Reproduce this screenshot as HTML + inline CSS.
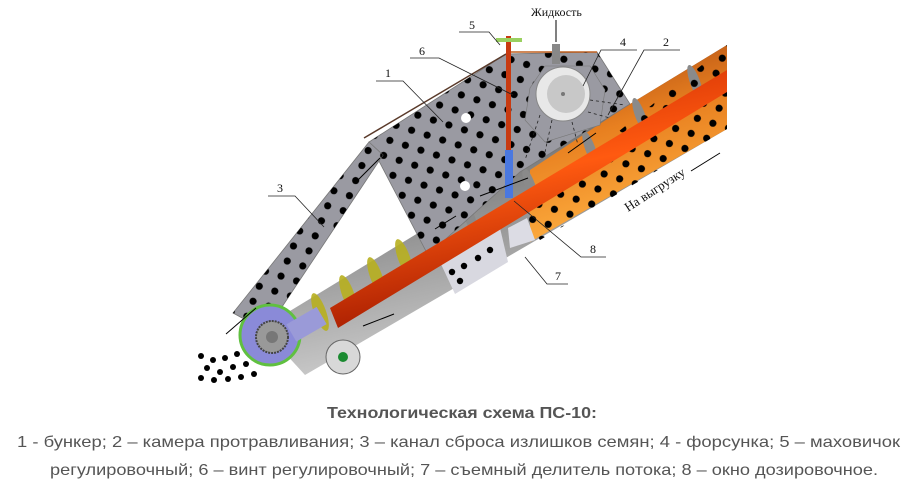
<!DOCTYPE html>
<html><head><meta charset="utf-8"><style>
html,body{margin:0;padding:0;background:#fff;width:918px;height:500px;overflow:hidden}
svg{display:block}
</style></head><body>
<svg width="918" height="500" viewBox="0 0 918 500" xmlns="http://www.w3.org/2000/svg">
<defs>
<pattern id="dots" width="24" height="22" patternUnits="userSpaceOnUse" patternTransform="rotate(-25)">
<circle cx="6" cy="6" r="3.6" fill="#000"/><circle cx="18" cy="17" r="3.6" fill="#000"/>
</pattern>
<linearGradient id="tubeG" x1="0" y1="0" x2="0.3" y2="1">
<stop offset="0" stop-color="#3a3a3a"/><stop offset="0.45" stop-color="#7a7a7a"/><stop offset="1" stop-color="#cfcfcf"/>
</linearGradient>
<linearGradient id="orG" x1="0" y1="0" x2="0.3" y2="1">
<stop offset="0" stop-color="#a04010"/><stop offset="0.5" stop-color="#e88020"/><stop offset="1" stop-color="#ffb040"/>
</linearGradient>
<linearGradient id="shaftG" x1="0" y1="0" x2="0.3" y2="1">
<stop offset="0" stop-color="#c02000"/><stop offset="0.5" stop-color="#ff5a10"/><stop offset="1" stop-color="#a01800"/>
</linearGradient>
<clipPath id="hopClip"><polygon points="369,142 506,54 597,52 630,104 520,172 428,255"/></clipPath>
<clipPath id="chClip"><polygon points="369,142 383,155 266,331 233,313"/></clipPath>
<clipPath id="orClip"><polygon points="520,210 727,45 727,129 540,240"/></clipPath>
</defs>

<!-- screw tube -->
<polygon points="262,328 727,45 727,129 305,375" fill="url(#tubeG)"/>
<polygon points="530,170 630,104 727,45 727,129 530,242" fill="url(#orG)"/>
<!-- flights -->
<g fill="#b8b020" opacity="0.9">
<ellipse cx="320" cy="312" rx="6" ry="20" transform="rotate(-20 320 312)"/>
<ellipse cx="348" cy="294" rx="6" ry="20" transform="rotate(-20 348 294)"/>
<ellipse cx="376" cy="276" rx="6" ry="20" transform="rotate(-20 376 276)"/>
<ellipse cx="404" cy="258" rx="6" ry="20" transform="rotate(-20 404 258)"/>
<ellipse cx="432" cy="240" rx="6" ry="20" transform="rotate(-20 432 240)"/>
</g>
<g fill="#8a8a8a">
<ellipse cx="470" cy="218" rx="5" ry="18" transform="rotate(-20 470 218)"/>
<ellipse cx="530" cy="185" rx="5" ry="18" transform="rotate(-20 530 185)"/>
<ellipse cx="590" cy="148" rx="5" ry="18" transform="rotate(-20 590 148)"/>
<ellipse cx="640" cy="115" rx="5" ry="18" transform="rotate(-20 640 115)"/>
<ellipse cx="695" cy="82" rx="5" ry="18" transform="rotate(-20 695 82)"/>
</g>
<rect x="0" y="0" width="918" height="500" fill="url(#dots)" clip-path="url(#orClip)"/>
<!-- light section with dots -->
<polygon points="440,262 500,228 508,262 455,294" fill="#d8d8e0"/>
<g fill="#000"><circle cx="452" cy="272" r="3.2"/><circle cx="464" cy="266" r="3.2"/><circle cx="460" cy="281" r="3.2"/><circle cx="478" cy="258" r="3.2"/><circle cx="490" cy="250" r="3.2"/></g>

<!-- hopper -->
<polygon points="369,142 506,54 597,52 630,104 520,172 428,255" fill="#9a9aa2" stroke="#777" stroke-width="0.8"/>
<line x1="364" y1="138" x2="506" y2="54" stroke="#5a3a2a" stroke-width="1.5"/>
<line x1="510" y1="52" x2="597" y2="52" stroke="#c06020" stroke-width="1.5"/>
<rect x="0" y="0" width="918" height="500" fill="url(#dots)" clip-path="url(#hopClip)"/>
<!-- camera / nozzle -->
<polygon points="530,88 545,66 590,66 605,90 600,125 545,142 525,120" fill="#9a9aa2" stroke="#777" stroke-width="0.6"/>
<g stroke="#222" stroke-width="0.8" stroke-dasharray="3 3">
<line x1="540" y1="115" x2="525" y2="160"/><line x1="552" y1="120" x2="545" y2="152"/>
<line x1="572" y1="122" x2="578" y2="145"/><line x1="588" y1="112" x2="610" y2="118"/>
<line x1="590" y1="100" x2="625" y2="105"/></g>
<circle cx="563" cy="94" r="27" fill="#e8e8e8" stroke="#888"/>
<circle cx="566" cy="94" r="19" fill="#c8c8c8"/>
<circle cx="563" cy="94" r="2" fill="#777"/>
<rect x="552" y="44" width="8" height="20" fill="#888"/>
<!-- divider -->
<polygon points="508,228 527,218 535,240 510,248" fill="#dcdce4"/>
<!-- rod -->
<rect x="506" y="36" width="5" height="130" fill="#c83a10"/>
<rect x="505" y="150" width="8" height="48" fill="#4a78e0"/>
<rect x="496" y="38" width="26" height="4" fill="#9ad060"/>
<circle cx="466" cy="118" r="5" fill="#fff"/><circle cx="465" cy="186" r="5" fill="#fff"/>

<!-- channel 3 -->
<polygon points="369,142 383,155 266,331 233,313" fill="#9a9aa2" stroke="#777" stroke-width="0.8"/>
<rect x="0" y="0" width="918" height="500" fill="url(#dots)" clip-path="url(#chClip)"/>

<!-- shaft -->
<polygon points="330,308 727,70 727,92 338,328" fill="url(#shaftG)"/>

<!-- drive -->
<circle cx="270" cy="335" r="30" fill="#8a8ad8" stroke="#60c040" stroke-width="3"/>
<circle cx="272" cy="337" r="16" fill="#999" stroke="#444" stroke-width="2" stroke-dasharray="2 1"/>
<circle cx="272" cy="337" r="6" fill="#777"/>
<rect x="290" y="318" width="35" height="20" fill="#9a9ad8" transform="rotate(-30 300 328)"/>
<circle cx="343" cy="357" r="17" fill="#d8d8d8" stroke="#666"/>
<circle cx="343" cy="357" r="5" fill="#1a8a30"/>

<!-- spill dots -->
<g fill="#000">
<circle cx="201" cy="356" r="3"/><circle cx="213" cy="360" r="3"/><circle cx="225" cy="358" r="3"/><circle cx="237" cy="354" r="3"/>
<circle cx="207" cy="368" r="3"/><circle cx="220" cy="372" r="3"/><circle cx="233" cy="367" r="3"/><circle cx="246" cy="364" r="3"/>
<circle cx="201" cy="378" r="3"/><circle cx="214" cy="380" r="3"/><circle cx="228" cy="379" r="3"/><circle cx="241" cy="377" r="3"/><circle cx="254" cy="374" r="3"/>
</g>

<!-- arrows -->
<g stroke="#000" stroke-width="1" fill="none">
<line x1="256" y1="308" x2="226" y2="334"/>
<line x1="380" y1="158" x2="356" y2="182"/>
<line x1="691" y1="171" x2="720" y2="153"/>
<line x1="363" y1="326" x2="394" y2="314"/>
<line x1="435" y1="229" x2="456" y2="216"/>
<line x1="480" y1="196" x2="528" y2="178"/>
<line x1="568" y1="153" x2="596" y2="133"/>
</g>

<!-- leader lines -->
<g stroke="#222" stroke-width="0.8" fill="none">
<polyline points="376,81 403,81 443,122"/>
<polyline points="680,50 644,50 608,115"/>
<polyline points="268,196 295,196 324,227"/>
<polyline points="637,50 601,50 583,86"/>
<polyline points="459,32 489,32 500,45"/>
<polyline points="410,58 439,58 513,95"/>
<polyline points="568,284 547,284 525,257"/>
<polyline points="606,257 581,257 514,201"/>
</g>
<g font-family="Liberation Serif, serif" font-size="12" fill="#111">
<text x="385" y="77">1</text><text x="663" y="46">2</text><text x="277" y="192">3</text><text x="620" y="46">4</text>
<text x="469" y="29">5</text><text x="419" y="55">6</text><text x="555" y="280">7</text><text x="590" y="253">8</text>
<text x="531" y="16">Жидкость</text>
<text x="628" y="212" font-size="13" transform="rotate(-33 628 212)">На выгрузку</text>
</g>
<line x1="556" y1="20" x2="556" y2="42" stroke="#000"/>

<!-- caption -->
<g font-family="Liberation Sans, Arial, sans-serif" fill="#555">
<text x="327" y="418" font-size="16" font-weight="bold" textLength="270" lengthAdjust="spacingAndGlyphs">Технологическая схема ПС-10:</text>
<text x="17" y="447" font-size="16" textLength="883" lengthAdjust="spacingAndGlyphs">1 - бункер; 2 – камера протравливания; 3 – канал сброса излишков семян; 4 - форсунка; 5 – маховичок</text>
<text x="50" y="475" font-size="16" textLength="828" lengthAdjust="spacingAndGlyphs">регулировочный; 6 – винт регулировочный; 7 – съемный делитель потока; 8 – окно дозировочное.</text>
</g>
</svg>
</body></html>
